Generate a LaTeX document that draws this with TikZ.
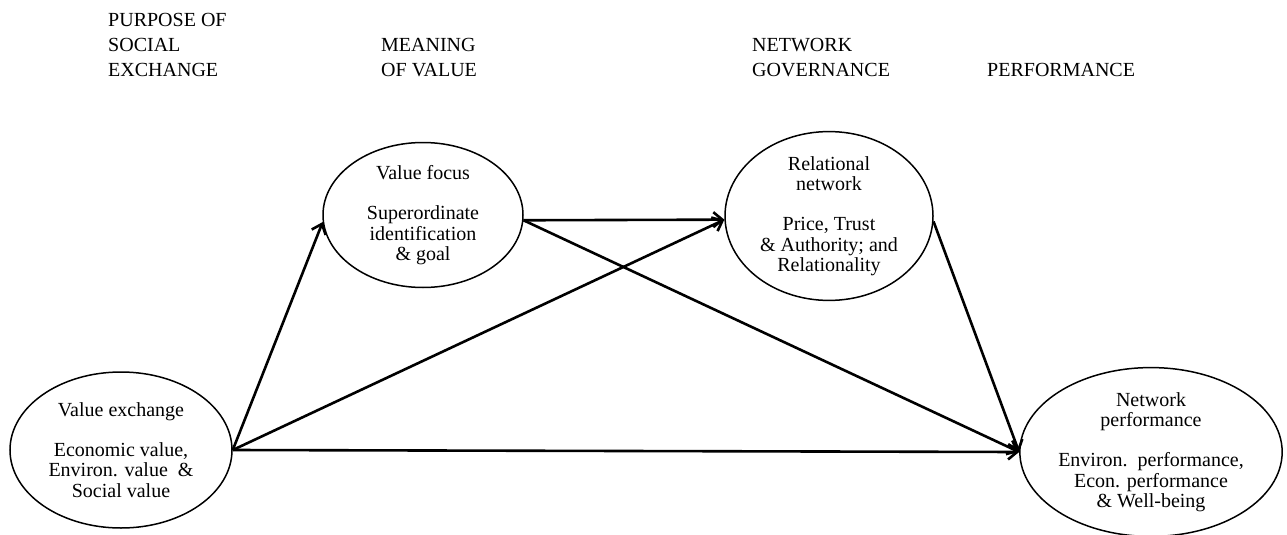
\documentclass[tikz,border=0pt]{standalone}
\usepackage{fontspec}
\setmainfont{Liberation Serif}
\usetikzlibrary{shapes.geometric,arrows.meta}
\begin{document}
\begin{tikzpicture}[x=1pt,y=-1pt,
  box/.style={ellipse,draw,line width=1.5pt,inner sep=0pt,align=center,
    font=\fontsize{20}{20.3}\selectfont},
  hdr/.style={anchor=north west,inner sep=0pt,align=left,
    font=\fontsize{20}{25}\selectfont},
  arr/.style={line width=2.6pt,-{Straight Barb[length=9pt,width=15pt]}}]
\useasboundingbox (0,0) rectangle (1287,535);

% column headers
\node[hdr] (h1) at (108,13) {PURPOSE OF\\SOCIAL\\EXCHANGE};
\node[hdr] (h2) at (381,38) {MEANING\\OF VALUE};
\node[hdr] (h3) at (752,38) {NETWORK\\GOVERNANCE};
\node[hdr] (h4) at (987,63) {PERFORMANCE};

% ellipses
\node[box,minimum width=222pt,minimum height=156pt] (ve) at (121,450)
  {Value exchange\\[20pt]Economic value,\\Environ. value\ \ \&\\Social value};
\node[box,minimum width=200pt,minimum height=145pt] (vf) at (423,215)
  {Value focus\\[20pt]Superordinate\\identification\\\& goal};
\node[box,minimum width=208pt,minimum height=147pt] (rn) at (829,216)
  {Relational\\network\\[20pt]Price, Trust\\\& Authority; and\\Relationality};
\node[box,minimum width=258pt,minimum height=161pt] (np) at (1151,452)
  {Network\\performance\\[20pt]Environ.\ \ performance,\\Econ. performance\\\& Well-being};

% connectors
\draw[arr] (ve.east) -- (vf.184);
\draw[arr] (ve.east) -- (rn.182);
\draw[arr] (ve.east) -- (np.west);
\draw[arr] (vf.-3) -- (rn.182);
\draw[arr] (vf.-3) -- (np.west);
\draw[arr] (rn.-3) -- (np.west);
\end{tikzpicture}
\end{document}
